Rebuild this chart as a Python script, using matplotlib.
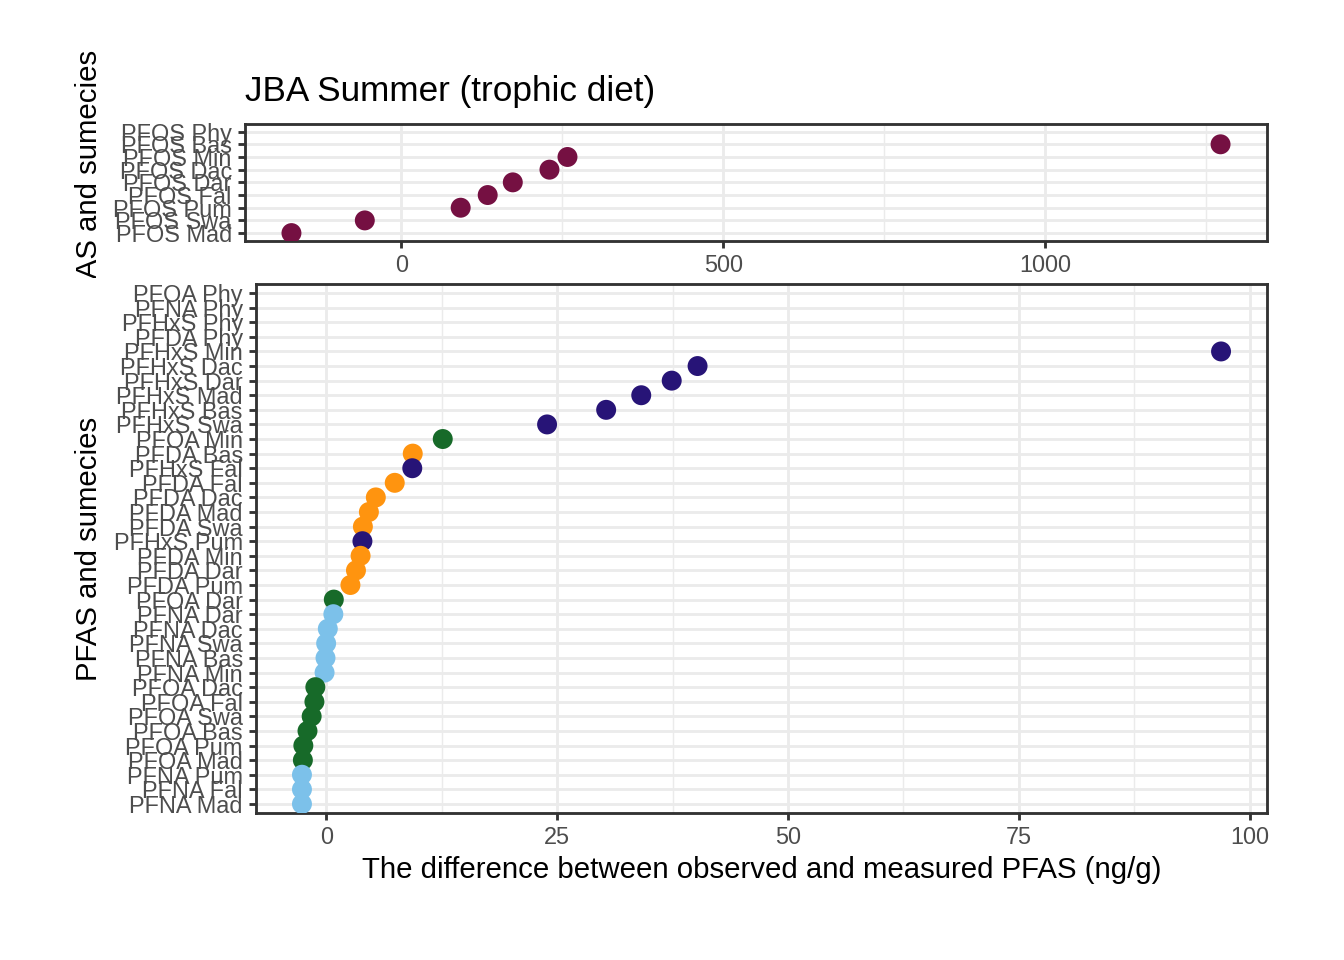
import numpy as np
import matplotlib.pyplot as plt
from matplotlib.ticker import MultipleLocator
from matplotlib.transforms import Bbox, TransformedBbox

plt.rcParams['font.family'] = ['Liberation Sans', 'DejaVu Sans']

title = 'JBA Summer (trophic diet)'
xlabel = 'The difference between observed and measured PFAS (ng/g)'
ylabel = 'PFAS and sumecies'

# top panel, rows listed top to bottom
pfos_labels = ['PFOS Phy', 'PFOS Bas', 'PFOS Min', 'PFOS Dac', 'PFOS Dar',
               'PFOS Fal', 'PFOS Pum', 'PFOS Swa', 'PFOS Mad']
pfos_diff = [np.nan, 1273, 258, 230, 173, 134, 92, -57, -171]

# bottom panel, rows listed top to bottom
other_labels = ['PFOA Phy', 'PFNA Phy', 'PFHxS Phy', 'PFDA Phy',
                'PFHxS Min', 'PFHxS Dac', 'PFHxS Dar', 'PFHxS Mad', 'PFHxS Bas',
                'PFHxS Swa', 'PFOA Min', 'PFDA Bas', 'PFHxS Fal', 'PFDA Fal',
                'PFDA Dac', 'PFDA Mad', 'PFDA Swa', 'PFHxS Pum', 'PFDA Min',
                'PFDA Dar', 'PFDA Pum', 'PFOA Dar', 'PFNA Dar', 'PFNA Dac',
                'PFNA Swa', 'PFNA Bas', 'PFNA Min', 'PFOA Dac', 'PFOA Fal',
                'PFOA Swa', 'PFOA Bas', 'PFOA Pum', 'PFOA Mad', 'PFNA Pum',
                'PFNA Fal', 'PFNA Mad']
other_diff = [np.nan, np.nan, np.nan, np.nan,
              96.9, 40.2, 37.4, 34.1, 30.3,
              23.9, 12.6, 9.35, 9.3, 7.4,
              5.35, 4.6, 3.95, 3.9, 3.7,
              3.2, 2.6, 0.8, 0.75, 0.15,
              -0.03, -0.1, -0.2, -1.2, -1.3,
              -1.6, -2.05, -2.5, -2.55, -2.65,
              -2.65, -2.65]

compound_colors = {'PFOS': '#751042', 'PFHxS': '#271477', 'PFOA': '#176A29',
                   'PFDA': '#FF940F', 'PFNA': '#7CC1EA'}

border = '#333333'
grid_col = '#EBEBEB'


def style(ax, major, minor):
    ax.set_facecolor('white')
    ax.set_axisbelow(True)
    for s in ax.spines.values():
        s.set_color(border)
        s.set_linewidth(1.07)
    ax.xaxis.set_major_locator(MultipleLocator(major))
    ax.xaxis.set_minor_locator(MultipleLocator(minor))
    ax.grid(which='major', color=grid_col, linewidth=1.07)
    ax.grid(which='minor', axis='x', color=grid_col, linewidth=0.53)
    ax.tick_params(which='major', length=2.75, width=1.07, color=border,
                   labelcolor='#4D4D4D', labelsize=8.8, pad=2.2)
    ax.tick_params(which='minor', length=0)


def draw(ax, labels, values):
    n = len(labels)
    y = np.arange(n)[::-1]
    cols = [compound_colors[l.split()[0]] for l in labels]
    ax.scatter(values, y, s=56, c=cols, linewidths=0, zorder=3)
    ax.set_yticks(y)
    ax.set_yticklabels(labels)
    ax.set_ylim(-0.6, n - 1 + 0.6)
    lo, hi = np.nanmin(values), np.nanmax(values)
    span = hi - lo
    ax.set_xlim(lo - 0.05 * span, hi + 0.05 * span)


fig = plt.figure(figsize=(7, 5), dpi=192)
W, H = 1344, 960

ax_top = fig.add_axes([245 / W, 1 - 240.7 / H, (1267 - 245) / W, 116.7 / H])
ax_bot = fig.add_axes([256 / W, 1 - 812.7 / H, (1267 - 256) / W, 528.4 / H])

draw(ax_top, pfos_labels, pfos_diff)
style(ax_top, 500, 250)
draw(ax_bot, other_labels, other_diff)
style(ax_bot, 25, 12.5)

fig.text(245 / W, 1 - 100.7 / H, title, fontsize=13.2, ha='left', va='baseline')
ax_bot.set_xlabel(xlabel, fontsize=11, labelpad=2.75)

# y titles, the top one is cut off by the top plot's region
lab_top = fig.text(96.7 / W, 1 - 182.4 / H, ylabel, fontsize=11, rotation=90,
                   rotation_mode='anchor', ha='center', va='baseline')
lab_top.set_clip_box(TransformedBbox(Bbox([[0, 1 - 278 / H], [1, 1]]), fig.transFigure))
lab_top.set_clip_on(True)
fig.text(96.7 / W, 1 - 548.5 / H, ylabel, fontsize=11, rotation=90,
         rotation_mode='anchor', ha='center', va='baseline')

fig.savefig('out.png', dpi=192, facecolor='white')
